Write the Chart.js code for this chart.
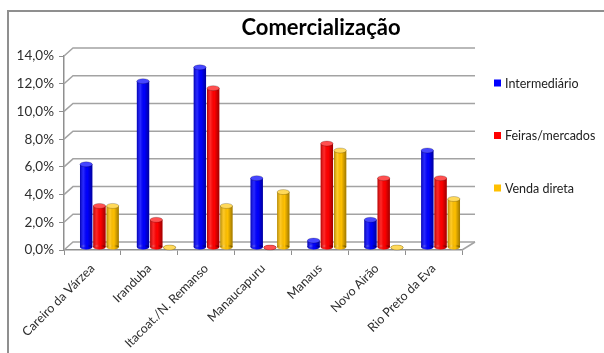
<!DOCTYPE html>
<html>
<head>
<meta charset="utf-8">
<script src="https://cdn.jsdelivr.net/npm/chart.js@4.4.1/dist/chart.umd.min.js"></script>
<style>
  html, body { margin: 0; padding: 0; background: #fff; overflow: hidden; width: 604px; height: 353px; }
  #moldura { position: absolute; left: 7px; top: 10px; width: 624px; height: 352px;
             border-top: 2px solid #8f8f8f; border-left: 2px solid #8f8f8f; }
  #moldura canvas { display: block; }
</style>
</head>
<body>
<div id="moldura"><canvas id="graphComercializacao" width="624" height="350"></canvas></div>
<script>
// Percentual por canal de comercialização e por município
const municipios = ['Careiro da Várzea', 'Iranduba', 'Itacoat./N. Remanso', 'Manaucapuru', 'Manaus', 'Novo Airão', 'Rio Preto da Eva'];
const intermediario  = [6, 12, 13, 5, 0.5, 2, 7];
const feirasMercados = [3, 2, 11.5, 0, 7.5, 5, 5];
const vendaDireta    = [3, 0, 3, 4, 7, 0, 3.5];

const nomesSeries = ['Intermediário', 'Feiras/mercados', 'Venda direta'];
const coresSeries = ['#0000FF', '#FF0000', '#FFC000'];
const coresTampa  = ['#4646ff', '#ff5050', '#ffd95a'];
const ticksY = [0, 2, 4, 6, 8, 10, 12, 14];
const titulo = 'Comercialização';

const FONTE = 'Lato, "Open Sans", sans-serif';
const DX = 9, DY = 8;       // profundidade da parede de fundo
const OX = 7, OY = -2.5;    // cilindros ficam no meio da profundidade
const RY = 2.5;             // raio vertical das tampas dos cilindros

function elipse(ctx, x, y, rx, ry) {
    ctx.beginPath();
    ctx.ellipse(x, y, rx, ry, 0, 0, Math.PI * 2);
}

// Parede de fundo, cilindros, título e legenda
const efeito3D = {
    id: 'efeito3D',
    beforeDatasetsDraw(chart) {
        const { ctx, chartArea: a, scales: { y } } = chart;
        ctx.save();
        ctx.strokeStyle = '#a3a3a3';
        ctx.lineWidth = 1.5;
        ticksY.forEach(v => {
            const py = y.getPixelForValue(v);
            ctx.beginPath();
            ctx.moveTo(a.left, py);
            ctx.lineTo(a.left + DX, py - DY);
            ctx.lineTo(a.right + DX + 4, py - DY);
            ctx.stroke();
        });
        const p0 = y.getPixelForValue(0);
        ctx.beginPath();
        ctx.moveTo(a.right, p0);
        ctx.lineTo(a.right + DX + 4, p0 - DY);
        ctx.stroke();
        ctx.restore();
    },
    afterDatasetsDraw(chart) {
        const ctx = chart.ctx;
        ctx.save();
        chart.data.datasets.forEach((ds, i) => {
            chart.getDatasetMeta(i).data.forEach(bar => {
                const p = bar.getProps(['x', 'y', 'base', 'width'], true);
                const x = p.x + OX, y = p.y + OY, base = p.base + OY;
                const rx = p.width / 2;
                const g = ctx.createLinearGradient(x - rx, 0, x + rx, 0);
                g.addColorStop(0, 'rgba(0,0,0,0.30)');
                g.addColorStop(0.3, 'rgba(255,255,255,0.15)');
                g.addColorStop(0.6, 'rgba(0,0,0,0)');
                g.addColorStop(1, 'rgba(0,0,0,0.38)');

                // corpo e base arredondada
                ctx.fillStyle = coresSeries[i];
                elipse(ctx, x, base, rx, RY);
                ctx.fill();
                if (base - y > 0) ctx.fillRect(x - rx, y, p.width, base - y);
                ctx.fillStyle = g;
                elipse(ctx, x, base, rx, RY);
                ctx.fill();
                if (base - y > 0) ctx.fillRect(x - rx, y, p.width, base - y);
                // tampa
                elipse(ctx, x, y, rx, RY);
                ctx.fillStyle = coresTampa[i];
                ctx.fill();
                ctx.strokeStyle = 'rgba(0,0,0,0.25)';
                ctx.lineWidth = 0.8;
                ctx.stroke();
            });
        });
        ctx.restore();
    },
    afterDraw(chart) {
        const { ctx, width } = chart;
        ctx.save();
        ctx.fillStyle = '#000';
        ctx.font = 'bold 22px ' + FONTE;
        ctx.textAlign = 'center';
        ctx.textBaseline = 'middle';
        ctx.fillText(titulo, width / 2, 16);

        ctx.font = '12.5px ' + FONTE;
        ctx.textAlign = 'left';
        nomesSeries.forEach((nome, i) => {
            const cy = 71 + i * 52.5;
            ctx.fillStyle = coresSeries[i];
            ctx.fillRect(485, cy - 3.5, 7, 7);
            ctx.fillStyle = '#222';
            ctx.fillText(nome, 496, cy + 0.5);
        });
        ctx.restore();
    }
};

const ctx = document.getElementById('graphComercializacao').getContext('2d');

new Chart(ctx, {
    type: 'bar',
    data: {
        labels: municipios,
        datasets: [intermediario, feirasMercados, vendaDireta].map((valores, i) => ({
            label: nomesSeries[i],
            data: valores,
            backgroundColor: 'rgba(0,0,0,0)',
            borderWidth: 0,
            barPercentage: 0.93,
            categoryPercentage: 0.7
        }))
    },
    options: {
        responsive: false,
        animation: false,
        devicePixelRatio: 1,
        layout: {
            padding: { left: 0, right: 171, top: 44, bottom: 0 }
        },
        plugins: {
            legend: { display: false },
            title: { display: false },
            tooltip: { enabled: false }
        },
        scales: {
            x: {
                afterFit(scale) { scale.height = 112; },
                grid: {
                    offset: true,
                    drawOnChartArea: false,
                    drawTicks: true,
                    tickLength: 5,
                    color: '#8f8f8f'
                },
                border: { display: true, color: '#8f8f8f', width: 1.5 },
                ticks: {
                    minRotation: 45,
                    maxRotation: 45,
                    autoSkip: false,
                    padding: 6,
                    color: '#2e2e2e',
                    font: { family: FONTE, size: 12.5 }
                }
            },
            y: {
                min: 0,
                max: 14,
                afterFit(scale) { scale.width = 55; },
                afterBuildTicks(scale) { scale.ticks = ticksY.map(v => ({ value: v })); },
                grid: {
                    drawOnChartArea: false,
                    drawTicks: true,
                    tickLength: 5,
                    color: '#8f8f8f'
                },
                border: { display: true, color: '#8f8f8f', width: 1.5 },
                ticks: {
                    padding: 5,
                    color: '#2e2e2e',
                    font: { family: FONTE, size: 13.5 },
                    callback: v => v.toFixed(1).replace('.', ',') + '%'
                }
            }
        }
    },
    plugins: [efeito3D]
});
</script>
</body>
</html>
